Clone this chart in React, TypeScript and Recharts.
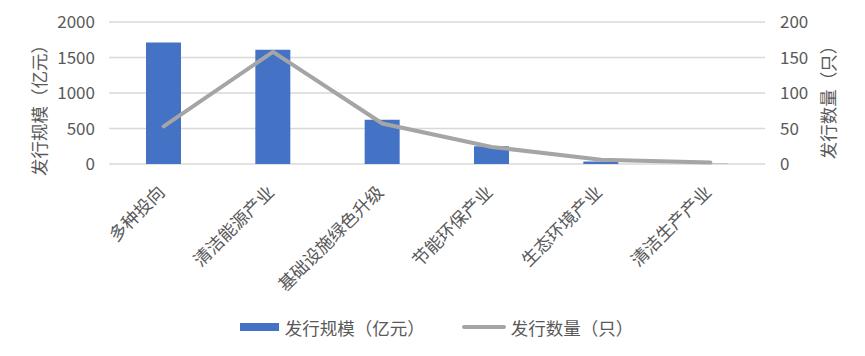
import { ComposedChart, Bar, Line, XAxis, YAxis, CartesianGrid, Legend } from 'recharts';

const categories = ['多种投向', '清洁能源产业', '基础设施绿色升级', '节能环保产业', '生态环境产业', '清洁生产产业'];
const issueScale = [1710, 1610, 625, 250, 35, 5];
const issueCount = [53, 158, 57, 24, 6, 2];
const leftTicks = [0, 500, 1000, 1500, 2000];
const rightTicks = [0, 50, 100, 150, 200];

const data = categories.map((name, i) => ({ name, scale: issueScale[i], count: issueCount[i] }));

const FONT = '"Noto Sans CJK SC", "Noto Sans", sans-serif';
const TEXT = '#595959';
const BLUE = '#4472C4';
const GREY = '#A5A5A5';

function CategoryTick({ x, y, payload }: any) {
  return (
    <text
      x={0}
      y={0}
      transform={`translate(${x - 2},${y + 17}) rotate(-45)`}
      textAnchor="end"
      dy="0.35em"
      fill={TEXT}
      fontSize={17.5}
      fontFamily={FONT}
    >
      {payload.value}
    </text>
  );
}

function AxisTitle({ viewBox, value, dx, dy }: any) {
  const cx = viewBox.x + dx;
  const cy = viewBox.y + viewBox.height / 2 + dy;
  return (
    <text
      x={cx}
      y={cy}
      transform={`rotate(-90,${cx},${cy})`}
      textAnchor="middle"
      dominantBaseline="central"
      fill={TEXT}
      fontSize={17.5}
      fontFamily={FONT}
    >
      {value}
    </text>
  );
}

function LegendBox() {
  return (
    <div style={{ display: 'flex', justifyContent: 'center', alignItems: 'center', fontFamily: FONT, fontSize: 17.5, color: TEXT, height: 50 }}>
      <span style={{ display: 'inline-block', width: 39, height: 8, background: BLUE, marginRight: 6 }} />
      <span>发行规模（亿元）</span>
      <span style={{ display: 'inline-block', width: 44, height: 4, borderRadius: 2, background: GREY, marginLeft: 37, marginRight: 5 }} />
      <span>发行数量（只）</span>
    </div>
  );
}

export default function App() {
  return (
    <div style={{ margin: -8, background: '#fff', width: 865, height: 356 }}>
      <ComposedChart width={865} height={356} data={data} margin={{ top: 22, right: 12, bottom: 4, left: 20 }}>
        <CartesianGrid vertical={false} stroke="#D9D9D9" strokeWidth={1.5} yAxisId="left" />
        <XAxis
          dataKey="name"
          height={138}
          tickLine={false}
          axisLine={false}
          interval={0}
          tick={<CategoryTick />}
        />
        <YAxis
          yAxisId="left"
          width={89}
          domain={[0, 2000]}
          ticks={leftTicks}
          tickLine={false}
          axisLine={false}
          tickMargin={8}
          tick={{ fill: TEXT, fontSize: 17, fontFamily: FONT }}
          label={<AxisTitle value="发行规模（亿元）" dx={18} dy={13} />}
        />
        <YAxis
          yAxisId="right"
          orientation="right"
          width={88}
          domain={[0, 200]}
          ticks={rightTicks}
          tickLine={false}
          axisLine={false}
          tickMargin={9}
          tick={{ fill: TEXT, fontSize: 17, fontFamily: FONT, textAnchor: 'start' }}
          label={<AxisTitle value="发行数量（只）" dx={62} dy={5} />}
        />
        <Legend verticalAlign="bottom" height={50} content={<LegendBox />} />
        <Bar yAxisId="left" dataKey="scale" name="发行规模（亿元）" fill={BLUE} barSize={35} isAnimationActive={false} />
        <Line
          yAxisId="right"
          dataKey="count"
          name="发行数量（只）"
          stroke={GREY}
          strokeWidth={4}
          strokeLinecap="round"
          dot={false}
          activeDot={false}
          type="linear"
          isAnimationActive={false}
        />
      </ComposedChart>
    </div>
  );
}
